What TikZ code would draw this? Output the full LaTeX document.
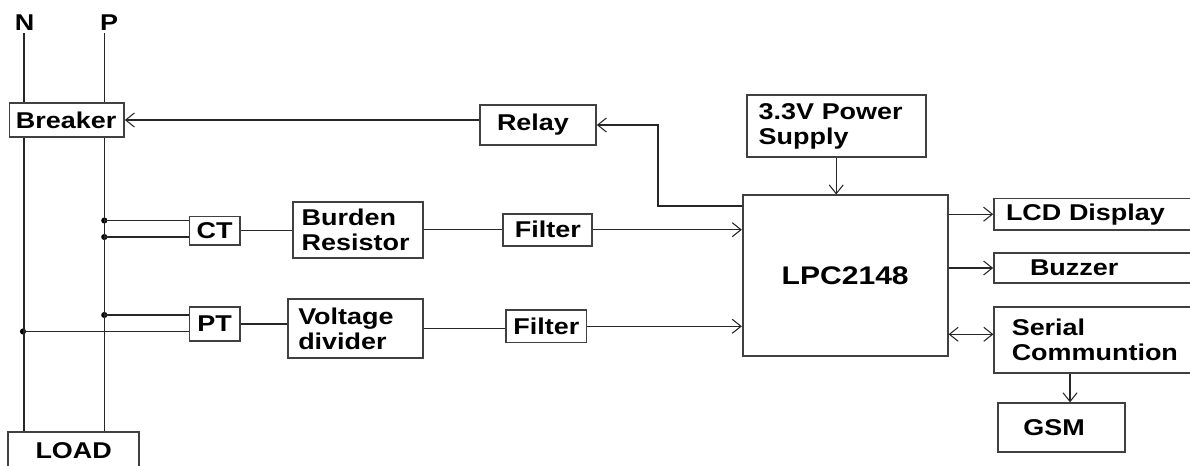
\documentclass[tikz,border=0pt]{standalone}
\usepackage{fontspec}
\setmainfont{Liberation Sans}[FakeStretch=1.18]
\usetikzlibrary{arrows.meta}

\tikzset{
  blk/.style={draw=black!75, line width=1pt, inner ysep=0pt, align=left,
    font=\bfseries\fontsize{13}{14.2}\selectfont},
  lbl/.style={inner sep=0pt, font=\bfseries\fontsize{13}{14.2}\selectfont},
  wire/.style={draw=black!85, line width=0.7pt},
  tip/.tip={Straight Barb[length=5pt,width=8pt,line width=0.6pt]},
  arr/.style={wire, -tip},
  darr/.style={wire, tip-tip},
  jdot/.style={circle, fill=black, inner sep=0pt, minimum size=3.5pt}
}

\begin{document}
\begin{tikzpicture}[x=0.02cm, y=-0.02cm]
\useasboundingbox (0,0) rectangle (1190,466);
\clip (0,0) rectangle (1190,466);

% mains side
\node[lbl] (nN) at (24.7,22.7) {N};
\node[lbl] (nP) at (109,22.7) {P};
\coordinate (ntop) at (24,33.3);
\coordinate (ptop) at (104.3,33.3);
\node[blk, text width=2.03cm, inner xsep=0.13cm, minimum height=0.69cm] (brk) at (66.7,120) {Breaker};
\node[blk, align=center, minimum width=2.62cm, minimum height=0.76cm] (load) at (73.7,451) {LOAD};

\node[jdot] (c1) at (104.3,220.5) {};
\node[jdot] (c2) at (104.3,237) {};
\node[jdot] (p1) at (104.3,315) {};
\node[jdot] (p2) at (23,331.5) {};

% sensing chain
\node[blk, minimum width=1.01cm, minimum height=0.57cm] (ct) at (214.7,230.8) {CT};
\node[blk, minimum width=1.01cm, minimum height=0.67cm] (pt) at (214.7,324) {PT};
\node[blk, text width=2.24cm, inner xsep=0.18cm, minimum height=1.12cm] (bur) at (357.7,230.3) {Burden\\Resistor};
\node[blk, text width=2.29cm, inner xsep=0.2cm, minimum height=1.18cm] (vdv) at (355.5,328.8) {Voltage\\divider};
\node[blk, minimum width=1.78cm, minimum height=0.64cm] (fl1) at (547.8,229.7) {Filter};
\node[blk, minimum width=1.61cm, minimum height=0.65cm] (fl2) at (546.3,326.3) {Filter};
\node[blk, text width=1.64cm, inner xsep=0.34cm, minimum height=0.8cm] (rly) at (538,125) {Relay};

% controller side
\node[blk, text width=3.1cm, inner xsep=0.24cm, minimum height=1.25cm] (pwr) at (836.2,126) {3.3V Power\\Supply};
\node[blk, minimum width=4.1cm, minimum height=3.21cm, font=\bfseries\fontsize{14.5}{16}\selectfont] (lpc) at (845.2,275.6) {LPC2148};
\node[blk, text width=3.84cm, inner xsep=0.24cm, minimum height=0.63cm] (lcd) at (1102,214.2) {LCD Display};
\node[blk, text width=2.88cm, inner xsep=0.72cm, minimum height=0.61cm] (buz) at (1102,268) {Buzzer};
\node[blk, text width=3.61cm, inner xsep=0.35cm, minimum height=1.32cm] (ser) at (1102,340.3) {Serial\\Communtion};
\node[blk, text width=1.52cm, inner xsep=0.51cm, minimum height=0.97cm] (gsm) at (1061.3,427.5) {GSM};

\draw[wire] (ntop) -- (ntop |- brk.north);
\draw[wire] (brk.south -| ntop) -- (load.north -| ntop);
\draw[wire] (ptop) -- (ptop |- brk.north);
\draw[wire] (brk.south -| ptop) -- (load.north -| ptop);

\draw[wire] (c1.center) -- (ct.west |- c1);
\draw[wire] (c2.center) -- (ct.west |- c2);
\draw[wire] (ct.east) -- (ct.east -| bur.west);
\draw[wire] (bur.east |- fl1) -- (fl1.west);
\draw[arr] (fl1.east) -- (fl1.east -| lpc.west);
\draw[wire] (p1.center) -- (pt.west |- p1);
\draw[wire] (p2.center) -- (pt.west |- p2);
\draw[wire] (pt.east) -- (pt.east -| vdv.west);
\draw[wire] (vdv.east) -- (vdv.east -| fl2.west);
\draw[arr] (fl2.east) -- (fl2.east -| lpc.west);

\draw[arr] (rly.west |- brk.east) -- (brk.east);
\coordinate (rj) at (658,206);
\draw[arr] (lpc.west |- rj) -- (rj) |- (rly.east);
\draw[arr] (pwr.south) -- (pwr.south |- lpc.north);
\draw[arr] (lpc.east |- lcd.west) -- (lcd.west);
\draw[arr] (lpc.east |- buz.west) -- (buz.west);
\coordinate (sj) at ([yshift=0.12cm]ser.west);
\draw[darr] (lpc.east |- sj) -- (sj);
\coordinate (gj) at (1070,373);
\draw[arr] (ser.south -| gj) -- (gsm.north -| gj);
\end{tikzpicture}
\end{document}
